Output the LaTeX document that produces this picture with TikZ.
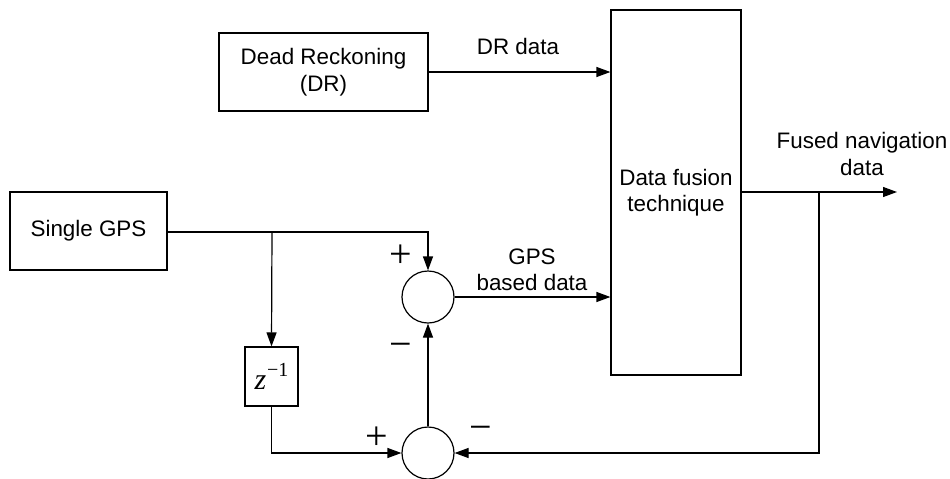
\documentclass[tikz,border=0pt]{standalone}
\usepackage{fontspec}
\setmainfont{Liberation Sans}
\newfontfamily\signfont{Liberation Serif}
\usetikzlibrary{arrows.meta}
\begin{document}
\begin{tikzpicture}[x=0.5pt,y=-0.5pt,
  every node/.style={font=\fontsize{11.2}{13.2}\selectfont},
  blk/.style={draw, line width=0.6pt, align=center, inner sep=0pt},
  sumc/.style={draw, circle, line width=0.6pt, minimum size=26pt, inner sep=0pt},
  wire/.style={line width=0.6pt},
  arr/.style={wire, -{Triangle[length=7pt,width=5pt]}},
  sgn/.style={font=\signfont\fontsize{20}{20}\selectfont, inner sep=0pt},
  lbl/.style={align=center, inner sep=0pt}]
\useasboundingbox (0,0) rectangle (950,478);
% blocks
\node[blk, minimum width=104.5pt, minimum height=39pt] (dr) at (323.5,72) {Dead Reckoning\\(DR)};
\node[blk, minimum width=65pt, minimum height=182.5pt] (fus) at (676,192.5) {Data fusion\\technique};
\node[blk, minimum width=78.5pt, minimum height=39pt] (gps) at (88.5,231) {Single GPS};
\node[blk, minimum width=26.5pt, minimum height=29.5pt] (z) at (271.5,376.5)
  {\signfont\fontsize{15}{15}\selectfont\itshape z\kern0.5pt\raisebox{0.45em}{\upshape\fontsize{10}{10}\selectfont −1}};
\node[sumc] (s1) at (428,297) {};
\node[sumc] (s2) at (428,453) {};
% junctions
\coordinate (j1) at (272,232);
\coordinate (j2) at (428,232);
\coordinate (j3) at (819,192);
\coordinate (out) at (897,192);
% connectors
\draw[arr] (dr.east) -- (fus.west |- dr.east);
\draw[wire] (gps.east |- j1) -- (j1);
\draw[arr] (j1) -- (j2) -- (s1.north);
\draw[arr] (j1) -- (z.north);
\draw[arr] (s1.east) -- (fus.west |- s1.east);
\draw[arr] (z.south) |- (s2.west);
\draw[arr] (s2.north) -- (s1.south);
\draw[arr] (fus.east |- out) -- (out);
\draw[arr] (j3) |- (s2.east);
% labels
\node[lbl] (ldr) at (518,46) {DR data};
\node[lbl] (lgps) at (532,270) {GPS\\based data};
\node[lbl] (lfus) at (862,154) {Fused navigation\\data};
\node[sgn] (p1) at (401,256) {+};
\node[sgn] (m1) at (401,350) {−};
\node[sgn] (p2) at (377,438) {+};
\node[sgn] (m2) at (481,433) {−};
\end{tikzpicture}
\end{document}
